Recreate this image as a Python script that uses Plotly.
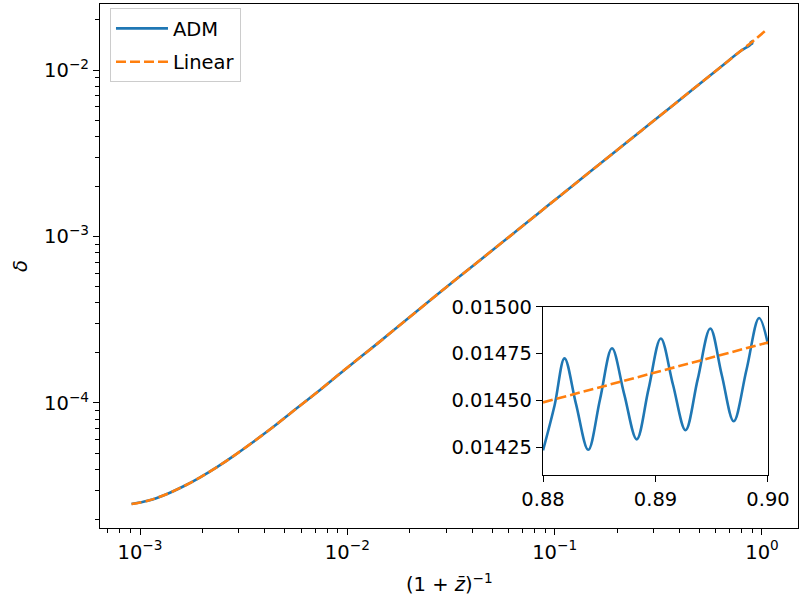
import plotly.graph_objects as go

# ---- data ----
# shared smooth part (ADM and Linear overlap here)
a_smooth = [9.1e-4, 1.1e-3, 1.35e-3, 1.65e-3, 1.95e-3, 2.35e-3, 2.81e-3, 3.5e-3, 4.4e-3,
            5.3e-3, 7.0e-3, 9.2e-3, 1.4e-2, 2.0e-2, 3.0e-2, 4.5e-2, 6.3e-2, 0.085, 0.106,
            0.178, 0.26, 0.374, 0.503, 0.65, 0.78]
delta_smooth = [2.47e-5, 2.593e-5, 2.842e-5, 3.193e-5, 3.578e-5, 4.122e-5, 4.781e-5, 5.814e-5, 7.19e-5,
                8.65e-5, 1.135e-4, 1.50e-4, 2.28e-4, 3.28e-4, 4.96e-4, 7.43e-4, 1.04e-3, 1.405e-3, 1.752e-3,
                2.94e-3, 4.29e-3, 6.17e-3, 8.30e-3, 1.072e-2, 1.287e-2]

# ADM oscillating tail
a_adm_end = [0.88000, 0.88103, 0.88191, 0.88293, 0.88402, 0.88507, 0.88613, 0.88721,
             0.88833, 0.88938, 0.89047, 0.89155, 0.89267, 0.89375, 0.89487, 0.89589,
             0.89695, 0.89809, 0.89921, 0.90000]
delta_adm_end = [0.014232, 0.014474, 0.014725, 0.014481, 0.014235, 0.014506, 0.014779, 0.014535,
                 0.014291, 0.014560, 0.014831, 0.014585, 0.014340, 0.014612, 0.014885, 0.014636,
                 0.014388, 0.014664, 0.014941, 0.014801]

# Linear tail
a_lin_end = [0.88, 0.90, 1.05]
delta_lin_end = [0.014489, 0.014810, 0.017400]

x_tickvals = [1e-3, 1e-2, 1e-1, 1e0]
x_ticktext = ["10<sup>−3</sup>", "10<sup>−2</sup>", "10<sup>−1</sup>", "10<sup>0</sup>"]
y_tickvals = [1e-4, 1e-3, 1e-2]
y_ticktext = ["10<sup>−4</sup>", "10<sup>−3</sup>", "10<sup>−2</sup>"]

inset_xticks = [0.88, 0.89, 0.90]
inset_yticks = [0.01425, 0.01450, 0.01475, 0.01500]

x_title = "(1 + <i>z\u0304</i>)<sup>−1</sup>"
y_title = "<i>δ</i>"

BLUE = "#1f77b4"
ORANGE = "#ff7f0e"
FONT = "DejaVu Sans"
FS = 19.5

x_minor = [m * 10 ** e for e in range(-4, 1) for m in range(2, 10)]
y_minor = [m * 10 ** e for e in range(-5, -1) for m in range(2, 10)]

fig = go.Figure()
fig.add_trace(go.Scatter(x=a_smooth + a_adm_end, y=delta_smooth + delta_adm_end,
                         mode="lines", name="ADM", legendgroup="a",
                         line=dict(color=BLUE, width=2.6, shape="spline"),
                         xaxis="x", yaxis="y"))
fig.add_trace(go.Scatter(x=a_smooth + a_lin_end, y=delta_smooth + delta_lin_end,
                         mode="lines", name="Linear", legendgroup="b",
                         line=dict(color=ORANGE, width=2.6, dash="10px,4px", shape="spline"),
                         xaxis="x", yaxis="y"))
fig.add_trace(go.Scatter(x=a_adm_end, y=delta_adm_end, mode="lines", showlegend=False,
                         line=dict(color=BLUE, width=2.6, shape="spline"),
                         xaxis="x2", yaxis="y2"))
fig.add_trace(go.Scatter(x=a_lin_end, y=delta_lin_end, mode="lines", showlegend=False,
                         line=dict(color=ORANGE, width=2.6, dash="10px,4px"),
                         xaxis="x2", yaxis="y2"))

axis_common = dict(showline=True, linecolor="black", linewidth=1.2, mirror=True,
                   ticks="outside", ticklen=6, tickwidth=1.2, tickcolor="black",
                   showgrid=False, zeroline=False, automargin=False,
                   tickfont=dict(family=FONT, size=FS, color="black"))

fig.update_layout(
    width=799, height=601,
    margin=dict(l=100, r=1, t=4, b=73, autoexpand=False),
    paper_bgcolor="white", plot_bgcolor="white",
    font=dict(family=FONT, size=FS, color="black"),
    xaxis=dict(type="log", range=[-3.193, 0.1737], tickmode="array",
               tickvals=x_tickvals, ticktext=x_ticktext,
               minor=dict(tickvals=x_minor, ticks="outside", ticklen=3.5, tickwidth=1, tickcolor="black"),
               domain=[0, 1], anchor="y", **axis_common),
    yaxis=dict(type="log", range=[-4.751, -1.6036], tickmode="array",
               tickvals=y_tickvals, ticktext=y_ticktext,
               minor=dict(tickvals=y_minor, ticks="outside", ticklen=3.5, tickwidth=1, tickcolor="black"),
               domain=[0, 1], anchor="x", **axis_common),
    xaxis2=dict(range=[0.88, 0.90], tickmode="array", tickvals=inset_xticks, tickformat=".2f",
                domain=[0.6347, 0.957], anchor="y2", **axis_common),
    yaxis2=dict(range=[0.0141, 0.0150], tickmode="array", tickvals=inset_yticks, tickformat=".5f",
                domain=[0.1011, 0.4218], anchor="x2", **axis_common),
    legend=dict(x=0.0143, y=0.992, xanchor="left", yanchor="top", itemwidth=52,
                bgcolor="rgba(255,255,255,0.8)", bordercolor="#cccccc", borderwidth=1,
                font=dict(family=FONT, size=FS, color="black"), tracegroupgap=5),
    showlegend=True,
    annotations=[
        dict(text=x_title, xref="paper", yref="paper", x=0.5, y=(528 - 583) / 524,
             xanchor="center", yanchor="middle", showarrow=False,
             font=dict(family=FONT, size=FS, color="black")),
        dict(text=y_title, xref="paper", yref="paper", x=(20 - 100) / 698, y=0.5,
             xanchor="center", yanchor="middle", showarrow=False, textangle=-90,
             font=dict(family=FONT, size=FS, color="black")),
    ],
)

fig.write_html("out.html")
